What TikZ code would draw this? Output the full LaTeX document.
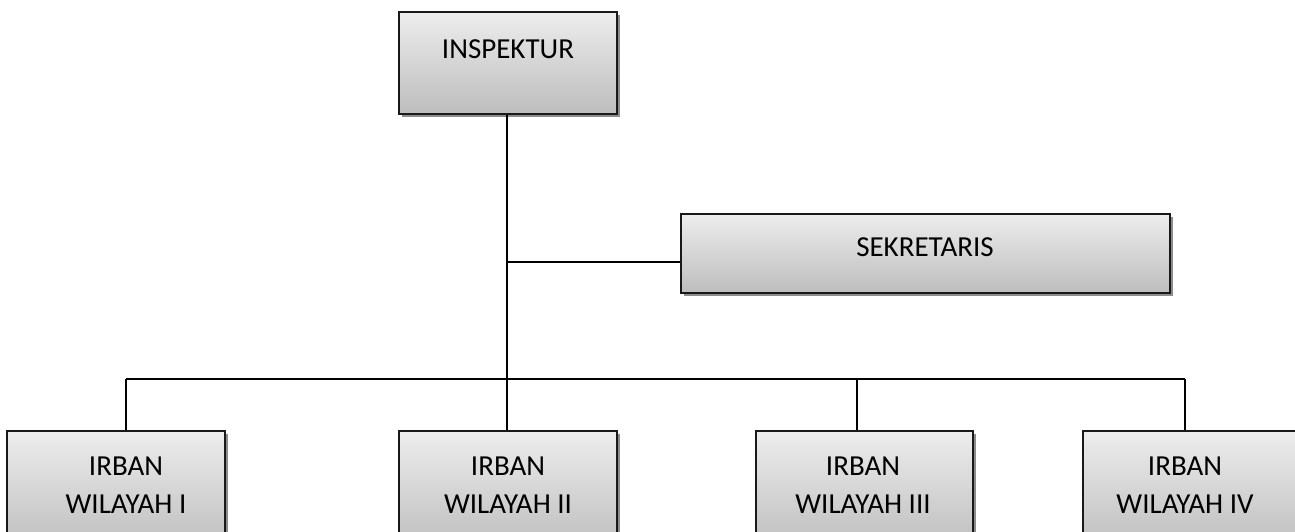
\documentclass[tikz,border=0pt]{standalone}
\usepackage{fontspec}
\setmainfont{Carlito}
\usetikzlibrary{shadows}
\tikzset{
  orgbox/.style={draw=black!90, line width=1pt, rectangle, inner sep=0pt,
    top color=black!7, bottom color=black!26,
    drop shadow={shadow xshift=1.5pt, shadow yshift=-1.6pt, fill=black!45, opacity=1}},
  lbl/.style={font=\fontsize{14.5pt}{19pt}\selectfont, align=center, inner sep=0pt},
  conn/.style={line width=0.75pt, black}
}
\begin{document}
\begin{tikzpicture}[x=0.5pt,y=-0.5pt]
\useasboundingbox (0,0) rectangle (1295,531);
\clip (0,0) rectangle (1295,531);
% boxes
\node[orgbox, minimum width=109pt, minimum height=51pt] (insp) at (508,63) {};
\node[lbl] (inspT) at (508,49) {INSPEKTUR};
\node[orgbox, minimum width=244.5pt, minimum height=39.5pt] (sek) at (925.5,253.5) {};
\node[lbl] (sekT) at (925,247) {SEKRETARIS};
\node[orgbox, minimum width=109pt, minimum height=60pt, anchor=north] (ir1) at (116,430) {};
\node[orgbox, minimum width=109pt, minimum height=60pt, anchor=north] (ir2) at (508,430) {};
\node[orgbox, minimum width=108.5pt, minimum height=60pt, anchor=north] (ir3) at (864.5,430) {};
\node[orgbox, minimum width=109pt, minimum height=60pt, anchor=north] (ir4) at (1192,430) {};
\node[lbl] (ir1T) at (126,485) {IRBAN\\WILAYAH I};
\node[lbl] (ir2T) at (508,485) {IRBAN\\WILAYAH II};
\node[lbl] (ir3T) at (863,485) {IRBAN\\WILAYAH III};
\node[lbl] (ir4T) at (1185,485) {IRBAN\\WILAYAH IV};
% connector points
\coordinate (j1) at (507,262);
\coordinate (bus) at (507,379);
\coordinate (b1) at (126,379);
\coordinate (b3) at (857,379);
\coordinate (b4) at (1185,379);
\draw[conn] (insp.south -| j1) -- (bus);
\draw[conn] (j1) -- (j1 -| sek.west);
\draw[conn] (b1) -- (b4);
\draw[conn] (b1) -- (b1 |- ir1.north);
\draw[conn] (bus) -- (bus |- ir2.north);
\draw[conn] (b3) -- (b3 |- ir3.north);
\draw[conn] (b4) -- (b4 |- ir4.north);
\end{tikzpicture}
\end{document}
